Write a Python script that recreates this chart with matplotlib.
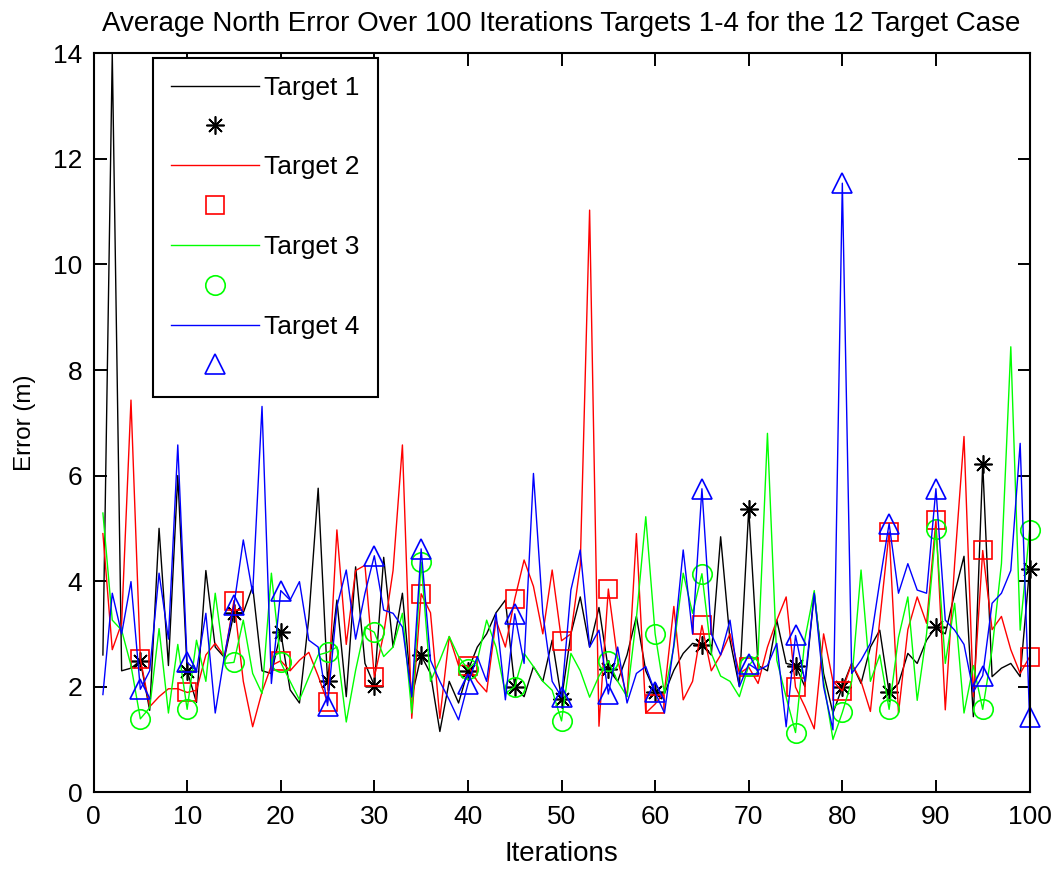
import numpy as np
import matplotlib.pyplot as plt

plt.rcParams['font.family'] = ['Liberation Sans', 'DejaVu Sans']

# average north error per iteration (m)
iterations = np.arange(1, 101)

target1 = [2.6, 14.0, 2.3, 2.35, 2.49, 1.55, 5.0, 2.4, 6.0, 2.30,
           1.7, 4.2, 2.75, 2.55, 3.4, 3.4, 3.9, 2.3, 2.25, 3.03,
           1.94, 1.69, 3.3, 5.76, 2.11, 3.64, 1.81, 4.27, 2.44, 2.02,
           4.45, 2.75, 3.77, 1.8, 2.59, 2.25, 1.15, 2.1, 1.69, 2.30,
           2.75, 3.0, 3.4, 3.64, 1.99, 1.81, 2.38, 2.1, 2.88, 1.76,
           3.0, 3.7, 2.75, 3.5, 2.33, 2.1, 2.6, 3.33, 2.3, 1.89,
           1.87, 2.31, 2.63, 2.82, 2.78, 2.6, 4.84, 2.88, 2.0, 5.37,
           2.4, 2.3, 3.26, 2.44, 2.40, 2.0, 3.77, 2.25, 1.5, 1.99,
           2.44, 2.06, 2.75, 3.07, 1.89, 2.06, 2.63, 2.44, 2.88, 3.13,
           3.0, 3.77, 4.47, 1.43, 6.22, 2.19, 2.35, 2.44, 2.19, 4.23]

target2 = [4.9, 2.7, 3.2, 7.43, 2.52, 1.62, 1.81, 1.96, 1.96, 1.89,
           1.93, 2.6, 2.82, 2.57, 3.63, 2.1, 1.24, 1.9, 2.4, 2.49,
           2.3, 2.5, 2.65, 2.2, 1.70, 4.97, 2.8, 4.2, 4.3, 2.18,
           3.0, 4.2, 6.58, 1.4, 3.76, 3.4, 1.4, 2.95, 2.4, 2.40,
           2.1, 1.9, 3.26, 2.75, 3.66, 4.4, 3.9, 3.0, 4.21, 2.87,
           3.0, 4.3, 11.03, 1.25, 3.85, 2.5, 1.81, 4.9, 1.5, 1.67,
           1.9, 3.52, 1.75, 2.1, 3.16, 2.3, 2.6, 3.0, 2.25, 2.37,
           2.06, 2.75, 3.26, 3.7, 1.99, 1.62, 1.2, 3.0, 2.1, 1.92,
           2.44, 2.1, 1.53, 3.26, 4.93, 1.5, 3.08, 3.7, 3.2, 5.15,
           1.56, 4.33, 6.74, 1.81, 4.58, 3.08, 3.33, 2.7, 2.25, 2.56]

target3 = [5.29, 3.26, 3.07, 2.4, 1.39, 1.6, 3.1, 1.5, 2.8, 1.57,
           2.88, 2.1, 3.77, 2.44, 2.46, 3.26, 2.25, 1.87, 4.15, 2.46,
           2.1, 1.75, 2.18, 2.6, 2.65, 2.75, 1.33, 2.31, 3.13, 3.03,
           2.57, 2.75, 3.39, 1.5, 4.36, 2.1, 2.5, 2.95, 2.57, 2.33,
           2.5, 3.26, 2.75, 1.87, 2.0, 2.63, 2.38, 2.1, 1.93, 1.35,
           2.63, 2.3, 1.8, 2.2, 2.49, 2.1, 1.81, 3.3, 5.22, 3.00,
           1.87, 2.75, 4.15, 3.39, 4.14, 2.63, 2.2, 2.1, 1.81, 2.40,
           2.6, 6.8, 2.5, 1.8, 1.13, 2.9, 3.82, 2.1, 1.0, 1.51,
           2.1, 4.21, 2.1, 2.6, 1.57, 2.93, 3.7, 1.74, 3.0, 4.99,
           2.44, 3.58, 1.5, 2.4, 1.57, 2.7, 4.33, 8.44, 3.07, 4.96]

target4 = [1.85, 3.77, 3.0, 3.99, 1.95, 2.3, 4.15, 2.9, 6.58, 2.46,
           2.3, 3.39, 1.5, 2.6, 3.54, 4.78, 3.77, 7.31, 2.06, 3.82,
           3.64, 3.99, 2.88, 2.75, 1.64, 3.52, 4.21, 2.9, 3.77, 4.48,
           3.45, 3.39, 3.13, 1.81, 4.61, 2.5, 2.1, 1.75, 1.37, 2.05,
           2.57, 2.1, 3.39, 1.75, 3.38, 2.44, 6.04, 3.39, 2.1, 1.80,
           3.83, 4.59, 2.75, 3.07, 1.86, 2.75, 1.69, 2.25, 2.38, 1.89,
           1.5, 2.8, 4.59, 3.0, 5.75, 3.0, 2.6, 3.26, 2.0, 2.43,
           2.31, 2.4, 2.82, 1.24, 2.97, 2.1, 3.77, 2.0, 1.18, 11.54,
           2.25, 2.5, 2.82, 3.99, 5.09, 3.77, 4.33, 3.83, 3.77, 5.75,
           3.26, 3.07, 2.8, 1.9, 2.21, 3.58, 3.77, 4.2, 6.61, 1.42]

series = [target1, target2, target3, target4]
names = ['Target 1', 'Target 2', 'Target 3', 'Target 4']
colors = ['k', '#ff0000', '#00ff00', '#0000ff']
markers = [(8, 2, 0), 's', 'o', '^']
marker_sizes = [13, 13, 14, 15]

fig = plt.figure(figsize=(10.57, 8.71), dpi=100)
ax = fig.add_axes([0.0885, 0.0905, 0.8855, 0.8482])

handles = []
labels = []
for vals, name, c, m, ms in zip(series, names, colors, markers, marker_sizes):
    vals = np.array(vals)
    line, = ax.plot(iterations, vals, color=c, lw=1.0)
    # every fifth iteration gets a marker
    idx = iterations % 5 == 0
    mk, = ax.plot(iterations[idx], vals[idx], linestyle='none', marker=m,
                  markersize=ms, markerfacecolor='none', markeredgecolor=c,
                  markeredgewidth=1.2, clip_on=False)
    handles += [line, mk]
    labels += [name, ' ']

ax.set_xlim(0, 100)
ax.set_ylim(0, 14)
ax.set_xticks(np.arange(0, 101, 10))
ax.set_yticks(np.arange(0, 15, 2))
ax.tick_params(direction='in', length=9, width=1.4, labelsize=19,
               top=True, right=True)
ax.tick_params(axis='y', pad=8)
ax.tick_params(axis='x', pad=9)
for sp in ax.spines.values():
    sp.set_linewidth(1.5)

ax.set_xlabel('Iterations', fontsize=20, labelpad=9)
ax.set_ylabel('Error (m)', fontsize=17.5, labelpad=12)
ax.set_title('Average North Error Over 100 Iterations Targets 1-4 for the 12 Target Case',
             fontsize=20, pad=16)

leg = ax.legend(handles, labels, loc='upper left', bbox_to_anchor=(0.064, 0.994),
                fontsize=19, frameon=True, fancybox=False, shadow=False,
                handlelength=3.33, handletextpad=0.19, labelspacing=0.60,
                borderpad=0.68, borderaxespad=0)
leg.get_frame().set_edgecolor('k')
leg.get_frame().set_linewidth(1.5)
leg.get_frame().set_alpha(1)

fig.savefig('out.png', dpi=100, facecolor='white')
